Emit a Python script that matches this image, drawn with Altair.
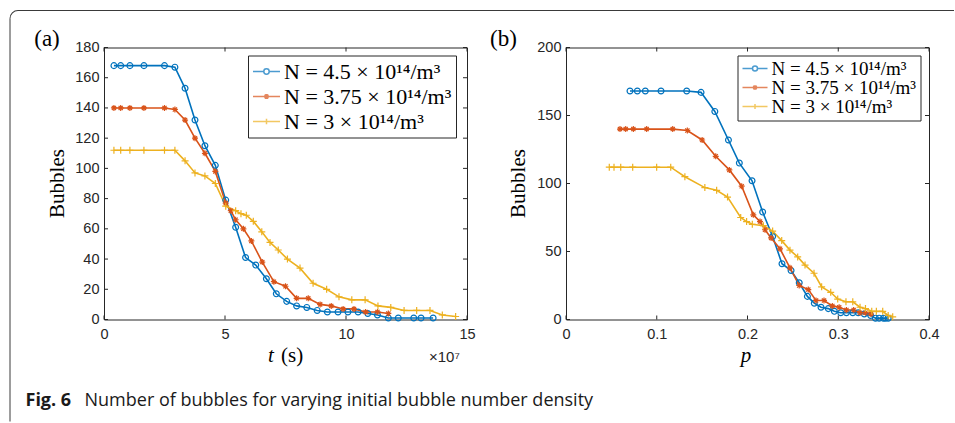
import altair as alt
import pandas as pd

# ---------------- data ----------------
series = ["N = 4.5 × 10¹⁴/m³", "N = 3.75 × 10¹⁴/m³", "N = 3 × 10¹⁴/m³"]
colors = ["#0072BD", "#D95319", "#EDB120"]

# time in units of 1e7 s
t_blue = [0.41, 0.69, 1.07, 1.65, 2.5, 2.93, 3.35, 3.76, 4.17, 4.6, 5.03, 5.44, 5.85, 6.27, 6.71,
          7.12, 7.55, 7.96, 8.38, 8.81, 9.23, 9.67, 10.08, 10.5, 10.9, 11.3, 11.75, 12.16, 12.8, 13.1, 13.6]
p_blue = [0.0705, 0.0786, 0.0874, 0.1047, 0.133, 0.1488, 0.164, 0.179, 0.191, 0.205, 0.2167, 0.2277,
          0.238, 0.248, 0.257, 0.266, 0.2736, 0.281, 0.289, 0.2957, 0.3027, 0.309, 0.316, 0.322,
          0.3287, 0.3357, 0.341, 0.345, 0.3497, 0.352, 0.355]
b_blue = [168, 168, 168, 168, 168, 167, 153, 132, 115, 102, 79, 61, 41, 36, 27, 17, 12, 9, 8, 6,
          5, 5, 5, 5, 4, 3, 1, 1, 1, 1, 1]

t_orange = [0.41, 0.69, 1.07, 1.65, 2.5, 2.93, 3.35, 3.76, 4.17, 4.6, 5.03, 5.24, 5.44, 5.76, 6.09,
            6.54, 7.02, 7.5, 7.96, 8.44, 8.93, 9.39, 9.88, 10.33, 10.81, 11.3, 11.75]
p_orange = [0.0595, 0.0658, 0.0742, 0.0889, 0.1176, 0.1337, 0.150, 0.165, 0.18, 0.1936, 0.2064,
            0.2138, 0.2193, 0.226, 0.2358, 0.2468, 0.257, 0.267, 0.2755, 0.2843, 0.2935, 0.301,
            0.309, 0.317, 0.324, 0.330, 0.336]
b_orange = [140, 140, 140, 140, 140, 139, 132, 120, 110, 98, 77, 72, 66, 60, 52, 38, 25, 22, 14, 14,
            10, 9, 7, 7, 5, 5, 4]

t_yellow = [0.41, 0.69, 1.07, 1.65, 2.5, 2.93, 3.35, 3.76, 4.17, 4.6, 5.03, 5.44, 5.66, 5.88, 6.17,
            6.52, 6.86, 7.2, 7.58, 8.1, 8.64, 9.2, 9.71, 10.24, 10.79, 11.32, 11.85, 12.4, 12.92,
            13.47, 13.98, 14.53]
p_yellow = [0.0477, 0.0529, 0.0603, 0.0735, 0.0999, 0.1154, 0.131, 0.153, 0.166, 0.178, 0.1925,
            0.199, 0.2053, 0.2175, 0.2277, 0.2377, 0.2468, 0.2553, 0.2634, 0.2733, 0.2817, 0.2917,
            0.2994, 0.3085, 0.316, 0.324, 0.330, 0.3369, 0.342, 0.349, 0.355, 0.36]
b_yellow = [112, 112, 112, 112, 112, 112, 105, 97, 95, 90, 75, 72, 70, 69, 65, 58, 51, 46, 40, 34,
            24, 20, 15, 13, 13, 9, 8, 6, 6, 6, 3, 2]

x_ticks_a = [0, 5, 10, 15]
y_ticks_a = [0, 20, 40, 60, 80, 100, 120, 140, 160, 180]
x_ticks_b = [0, 0.1, 0.2, 0.3, 0.4]
y_ticks_b = [0, 50, 100, 150, 200]

caption_bold = "Fig. 6"
caption_text = "Number of bubbles for varying initial bubble number density"

rows = []
for k, (name, ts, ps, bs) in enumerate(zip(series, [t_blue, t_orange, t_yellow],
                                           [p_blue, p_orange, p_yellow],
                                           [b_blue, b_orange, b_yellow])):
    for tv, pv, bv in zip(ts, ps, bs):
        rows.append({"sid": k, "series": name, "t": tv, "p": pv, "bubbles": bv})
df = pd.DataFrame(rows)

# ---------------- style ----------------
W, H = 363, 272
AX = "#262626"
FRAME = "#3a3a3a"
NUMFONT = "Liberation Sans"
SERIF = "Liberation Serif"

marker_shapes = ["circle",
                 "M-0.7,-0.7L0.7,0.7M-0.7,0.7L0.7,-0.7M0,-1V1M-1,0H1",
                 "M-1,0H1M0,-1V1"]
marker_sizes = [34, 36, 49]
legend_paths = [
    "M-1,0H-0.2M0.2,0H1M0.2,0A0.2,0.2 0 1,1 -0.2,0A0.2,0.2 0 1,1 0.2,0",
    "M-1,0H1M-0.14,-0.14L0.14,0.14M-0.14,0.14L0.14,-0.14M0,-0.18V0.18",
    "M-1,0H1M0,-0.2V0.2",
]


def txt(s):
    return alt.Chart(pd.DataFrame({"s": [s]}))


def panel(xf, xdom, xticks, ydom, yticks, xfmt, leg_font, leg_sym, leg_clip, leg_x, leg_rowpad,
          extras):
    xs = alt.Scale(domain=xdom, nice=False, zero=False)
    ys = alt.Scale(domain=ydom, nice=False, zero=False)
    xax = alt.Axis(values=xticks, title=None, grid=False, ticks=False, domain=False,
                   labelFont=NUMFONT, labelFontSize=14.5, labelColor=AX, labelPadding=8,
                   format=xfmt, labelFlush=False)
    yax = alt.Axis(values=yticks, title=None, grid=False, ticks=False, domain=False,
                   labelFont=NUMFONT, labelFontSize=14.5, labelColor=AX, labelPadding=5,
                   format="d", labelFlush=False)

    leg = alt.Legend(title=None, orient="none", legendX=leg_x, legendY=8, padding=4,
                     rowPadding=leg_rowpad,
                     labelFont=SERIF, labelFontSize=leg_font, labelColor="black", labelLimit=500,
                     labelOffset=3, symbolSize=leg_sym, symbolStrokeWidth=1.5,
                     clipHeight=leg_clip, strokeColor=AX, fillColor="white", cornerRadius=0)
    span = xdom[1] - xdom[0]
    leg_df = pd.DataFrame({"series": series, "lx": [xdom[0] - 50 * span] * 3,
                           "ly": [ydom[0]] * 3})
    legend_layer = alt.Chart(leg_df).mark_point(clip=True, filled=False, strokeWidth=1.5).encode(
        x=alt.X("lx:Q", scale=xs, axis=xax),
        y=alt.Y("ly:Q", scale=ys, axis=yax),
        color=alt.Color("series:N", scale=alt.Scale(domain=series, range=colors), legend=leg),
        shape=alt.Shape("series:N", scale=alt.Scale(domain=series, range=legend_paths), legend=leg),
    )

    layers = [legend_layer]
    base = alt.Chart(df).encode(
        x=alt.X(f"{xf}:Q", scale=xs, axis=xax),
        y=alt.Y("bubbles:Q", scale=ys, axis=yax),
        order="t:Q",
    )
    for k in range(3):
        layers.append(base.transform_filter(alt.datum.sid == k)
                      .mark_line(color=colors[k], strokeWidth=1.6))
    for k in range(3):
        layers.append(base.transform_filter(alt.datum.sid == k)
                      .mark_point(color=colors[k], shape=marker_shapes[k], size=marker_sizes[k],
                                  filled=False, strokeWidth=1.2, opacity=1))

    xt = pd.DataFrame({"v": xticks})
    yt = pd.DataFrame({"v": yticks})
    tick = dict(color=AX, strokeWidth=1)
    layers += [
        alt.Chart(xt).mark_rule(**tick).encode(x=alt.X("v:Q", scale=xs, axis=xax),
                                               y=alt.value(H), y2=alt.value(H - 4)),
        alt.Chart(xt).mark_rule(**tick).encode(x=alt.X("v:Q", scale=xs, axis=xax),
                                               y=alt.value(0), y2=alt.value(4)),
        alt.Chart(yt).mark_rule(**tick).encode(y=alt.Y("v:Q", scale=ys, axis=yax),
                                               x=alt.value(0), x2=alt.value(4)),
        alt.Chart(yt).mark_rule(**tick).encode(y=alt.Y("v:Q", scale=ys, axis=yax),
                                               x=alt.value(W), x2=alt.value(W - 4)),
    ]
    layers += extras
    return alt.layer(*layers).properties(width=W, height=H)


# ---- texts / decorations for panel (a) ----
ex_a = [
    txt("(a)").mark_text(font=SERIF, fontSize=23, align="center", baseline="middle", color="black")
    .encode(text="s:N", x=alt.value(-57), y=alt.value(-9)),
    txt("Bubbles").mark_text(font=SERIF, fontSize=21, angle=270, align="center", baseline="middle",
                             color="black")
    .encode(text="s:N", x=alt.value(-46.5), y=alt.value(H / 2)),
    txt("t").mark_text(font=SERIF, fontSize=21, fontStyle="italic", align="center",
                       baseline="alphabetic", color="black")
    .encode(text="s:N", x=alt.value(167), y=alt.value(314)),
    txt("(s)").mark_text(font=SERIF, fontSize=21, align="left", baseline="alphabetic", color="black")
    .encode(text="s:N", x=alt.value(177), y=alt.value(314)),
    txt("×10⁷").mark_text(font=NUMFONT, fontSize=15, align="left", baseline="alphabetic", color=AX)
    .encode(text="s:N", x=alt.value(325), y=alt.value(314)),
    txt(caption_bold).mark_text(font="Open Sans", fontSize=18, fontWeight="bold", align="left",
                                baseline="alphabetic", color="#1a1a1a")
    .encode(text="s:N", x=alt.value(-78.5), y=alt.value(358)),
    txt(caption_text).mark_text(font="Open Sans", fontSize=18, align="left",
                                baseline="alphabetic", color="#1a1a1a")
    .encode(text="s:N", x=alt.value(-19.5), y=alt.value(358)),
    # rounded outer frame (top edge, left edge, corner)
    txt("").mark_rule(color=FRAME, strokeWidth=1)
    .encode(x=alt.value(-86), x2=alt.value(850), y=alt.value(-37)),
    txt("").mark_rule(color=FRAME, strokeWidth=1)
    .encode(y=alt.value(-29), y2=alt.value(374), x=alt.value(-94)),
    txt("").mark_arc(color=FRAME)
    .encode(x=alt.value(-86), y=alt.value(-29), theta=alt.value(4.7124), theta2=alt.value(6.2832),
            radius=alt.value(8.5), radius2=alt.value(7.5)),
]

ex_b = [
    txt("(b)").mark_text(font=SERIF, fontSize=23, align="center", baseline="middle", color="black")
    .encode(text="s:N", x=alt.value(-62.5), y=alt.value(-9)),
    txt("Bubbles").mark_text(font=SERIF, fontSize=21, angle=270, align="center", baseline="middle",
                             color="black")
    .encode(text="s:N", x=alt.value(-47.5), y=alt.value(H / 2)),
    txt("p").mark_text(font=SERIF, fontSize=21, fontStyle="italic", align="center",
                       baseline="alphabetic", color="black")
    .encode(text="s:N", x=alt.value(180), y=alt.value(314)),
]

left = panel("t", [0, 15], x_ticks_a, [0, 180], y_ticks_a, "d", 22, 729, 24, 144, 1, ex_a)
right = panel("p", [0, 0.4], x_ticks_b, [0, 200], y_ticks_b, "~g", 19, 625, 18, 171.5, 0, ex_b)

chart = (
    alt.hconcat(left, right, spacing=99, bounds="flush")
    .resolve_scale(color="independent", shape="independent")
    .resolve_legend(color="independent", shape="independent")
    .properties(padding={"left": 9, "top": 9.5, "right": 0, "bottom": 0}, background="white")
    .configure_view(stroke=AX, strokeWidth=1)
    .configure_legend(labelFont=SERIF)
)

chart.save("out.html", embed_options={"renderer": "svg", "actions": False})
